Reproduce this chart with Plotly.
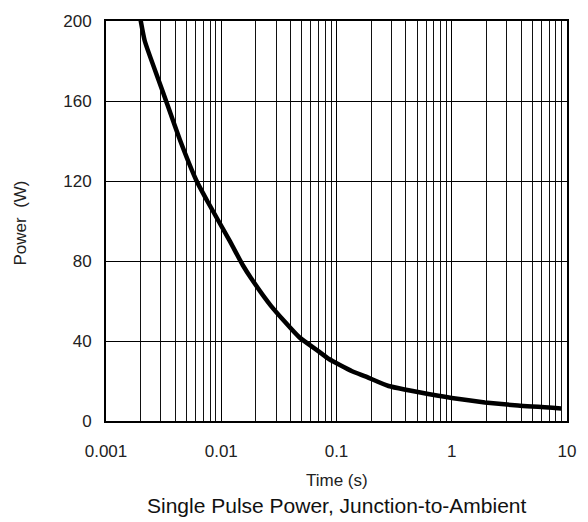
import plotly.graph_objects as go

# Data
time_s = [0.00196, 0.00217, 0.00293, 0.00334, 0.00435, 0.00607, 0.00765, 0.01178,
          0.01535, 0.0181, 0.027, 0.0473, 0.0705, 0.086, 0.1365, 0.178, 0.283, 0.766,
          1.0, 1.94, 3.76, 8.89]
power_w = [203, 190, 168.8, 159.6, 141, 120.4, 109.5, 90.3,
           78, 71.5, 57.6, 42, 34.7, 31, 24.9, 22.3, 17.5, 12.6,
           11.5, 9.3, 7.7, 6.3]

x_major = [0.001, 0.01, 0.1, 1, 10]
x_major_labels = ["0.001", "0.01", "0.1", "1", "10"]
x_minor = [m * d for d in [0.001, 0.01, 0.1, 1] for m in range(2, 10)]
y_ticks = [0, 40, 80, 120, 160, 200]

FAM = "Liberation Sans, Arial, sans-serif"

fig = go.Figure()
fig.add_trace(go.Scatter(
    x=time_s, y=power_w, mode="lines",
    line=dict(color="black", width=4.5, shape="spline", smoothing=0.5),
    cliponaxis=True, showlegend=False, hoverinfo="skip"))

tick_font = dict(family=FAM, size=17, color="#222")

fig.update_xaxes(
    type="log", range=[-3, 1],
    tickvals=x_major, ticktext=x_major_labels, ticks="",
    ticklabelstandoff=14,
    showgrid=True, gridcolor="black", gridwidth=1.2,
    minor=dict(tickvals=x_minor, showgrid=True, gridcolor="#111", gridwidth=1.2, ticks=""),
    showline=True, linecolor="black", linewidth=2, mirror=True,
    tickfont=tick_font, zeroline=False,
)
fig.update_yaxes(
    range=[0, 200], tickvals=y_ticks, ticks="",
    ticklabelstandoff=9,
    showgrid=True, gridcolor="black", gridwidth=1.2,
    showline=True, linecolor="black", linewidth=2, mirror=True,
    tickfont=tick_font, zeroline=False,
)

fig.add_annotation(
    text="Time (s)", xref="paper", yref="paper", x=0.5, y=-0.148,
    xanchor="center", yanchor="middle", showarrow=False,
    font=dict(family=FAM, size=17, color="#222"))
fig.add_annotation(
    text="Power  (W)", xref="paper", yref="paper", x=-0.1855, y=0.495,
    xanchor="center", yanchor="middle", textangle=-90, showarrow=False,
    font=dict(family=FAM, size=17, color="#222"))
fig.add_annotation(
    text="Single Pulse Power, Junction-to-Ambient",
    xref="paper", yref="paper", x=0.5, y=-0.2117, xanchor="center", yanchor="middle",
    showarrow=False, font=dict(family=FAM, size=21, color="#111"))

fig.update_layout(
    width=588, height=522,
    margin=dict(l=106, r=18, t=13, b=101),
    plot_bgcolor="white", paper_bgcolor="white",
)

fig.write_html("out.html")
